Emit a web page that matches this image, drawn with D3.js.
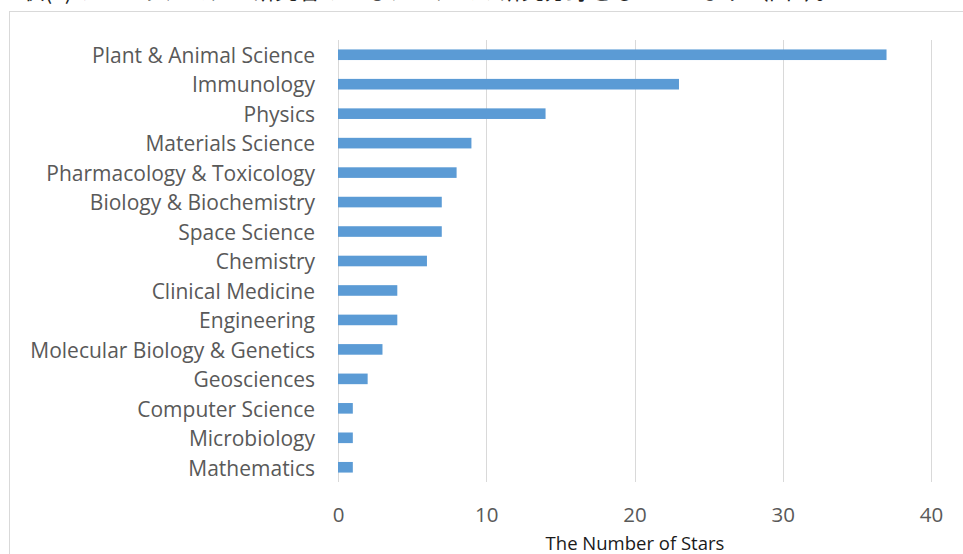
<!DOCTYPE html>
<html>
<head>
<meta charset="utf-8">
<script src="https://cdn.jsdelivr.net/npm/d3@7"></script>
<style>
  html, body { margin: 0; padding: 0; background: #fff; }
  svg { display: block; }
</style>
</head>
<body>
<svg id="chart" width="963" height="554"></svg>
<script>
// Research fields and number of star researchers in each
const categories = [
  "Plant & Animal Science", "Immunology", "Physics", "Materials Science",
  "Pharmacology & Toxicology", "Biology & Biochemistry", "Space Science",
  "Chemistry", "Clinical Medicine", "Engineering",
  "Molecular Biology & Genetics", "Geosciences", "Computer Science",
  "Microbiology", "Mathematics"
];
const stars = [37, 23, 14, 9, 8, 7, 7, 6, 4, 4, 3, 2, 1, 1, 1];
const xTicks = [0, 10, 20, 30, 40];
const xTitle = "The Number of Stars";
const captionText = "状(2)のとおり、スター研究者のいるアイテムの研究分野をもっています（図1）。";

const svg = d3.select("#chart");
const W = 963, H = 554;
const plot = { left: 338, right: 931, top: 40, bottom: 482 };

// caption line above the chart, running off the top edge
svg.append("text")
  .attr("x", 22).attr("y", -1)
  .attr("font-family", "Noto Sans CJK JP")
  .attr("font-size", 24)
  .attr("fill", "#222")
  .attr("textLength", 816)
  .attr("lengthAdjust", "spacingAndGlyphs")
  .text(captionText);

// chart frame
svg.append("rect")
  .attr("x", 9.5).attr("y", 11.5)
  .attr("width", W).attr("height", H)
  .attr("fill", "#fff")
  .attr("stroke", "#d9d9d9").attr("stroke-width", 1);

const x = d3.scaleLinear().domain([0, 40]).range([plot.left, plot.right]);
const y = d3.scaleBand().domain(categories)
  .range([plot.top, plot.bottom]).paddingInner(0.64).paddingOuter(0.32);

// vertical gridlines
svg.append("g").selectAll("line").data(xTicks).join("line")
  .attr("x1", d => Math.round(x(d)) + 0.5).attr("x2", d => Math.round(x(d)) + 0.5)
  .attr("y1", plot.top).attr("y2", plot.bottom)
  .attr("stroke", "#d9d9d9").attr("stroke-width", 1);

// bars
svg.append("g").selectAll("rect").data(categories).join("rect")
  .attr("x", x(0))
  .attr("y", d => y(d))
  .attr("width", (d, i) => x(stars[i]) - x(0))
  .attr("height", y.bandwidth())
  .attr("fill", "#5b9bd5");

// category labels
const yAxis = d3.axisLeft(y).tickSize(0).tickPadding(23);
const gy = svg.append("g").attr("transform", `translate(${plot.left},1.5)`).call(yAxis);
gy.select(".domain").remove();
gy.selectAll("text")
  .attr("font-family", "Open Sans")
  .attr("font-size", 21)
  .attr("fill", "#595959");

// value axis labels
const xAxis = d3.axisBottom(x).tickValues(xTicks).tickSize(0).tickPadding(25);
const gx = svg.append("g").attr("transform", `translate(0,${plot.bottom})`).call(xAxis);
gx.select(".domain").remove();
gx.selectAll("text")
  .attr("font-family", "Open Sans")
  .attr("font-size", 20.5)
  .attr("fill", "#595959");

// axis title
svg.append("text")
  .attr("x", 635)
  .attr("y", 550)
  .attr("text-anchor", "middle")
  .attr("font-family", "Open Sans")
  .attr("font-size", 18.5)
  .attr("fill", "#1a1a1a")
  .text(xTitle);
</script>
</body>
</html>
